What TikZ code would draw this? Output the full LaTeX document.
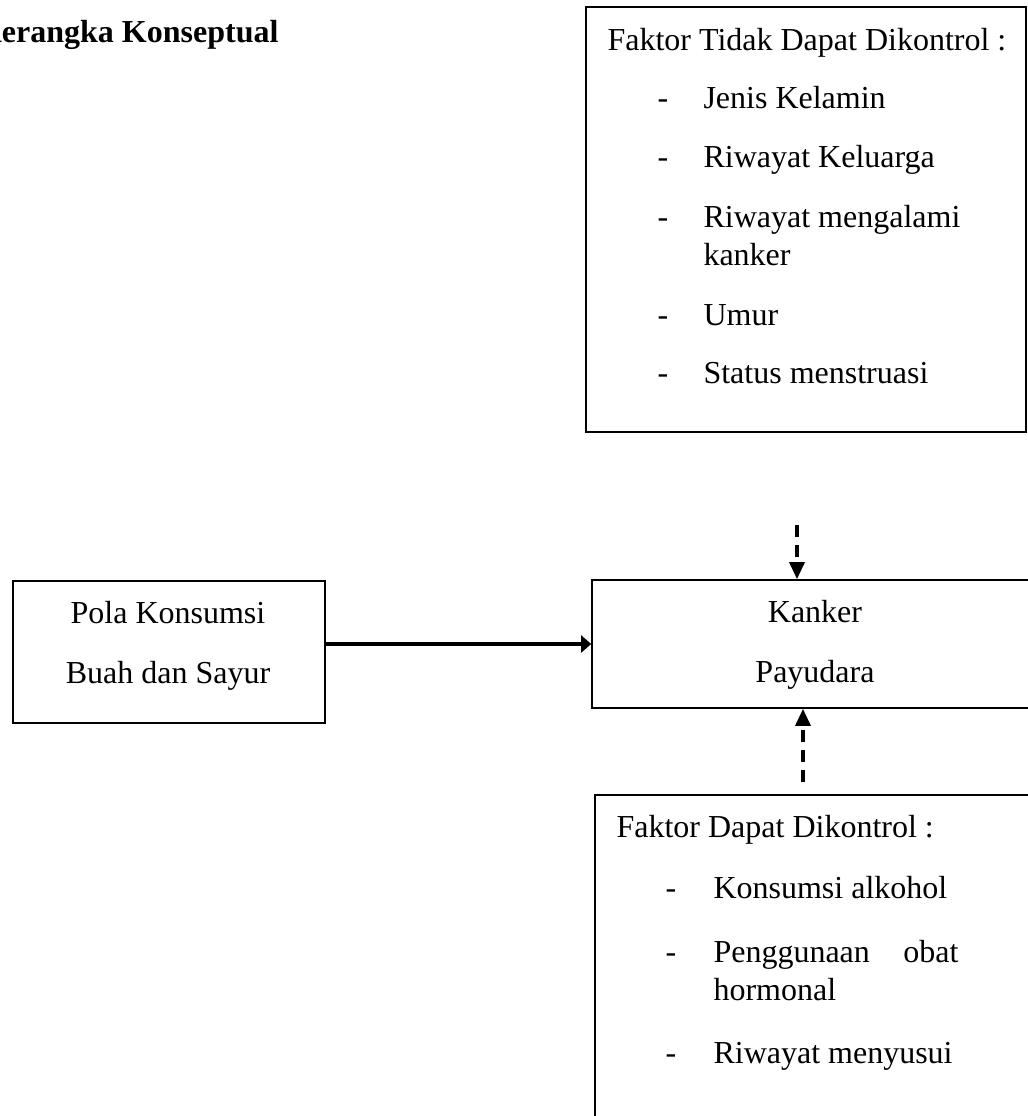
\documentclass[tikz,border=0pt]{standalone}
\usepackage{fontspec}
\setmainfont{Liberation Serif}
\usetikzlibrary{arrows.meta,positioning}
\newcommand{\pxScale}{0.375pt}
\newcommand{\boxLine}{0.6pt}

\begin{document}
\begin{tikzpicture}[x=\pxScale, y=-\pxScale, font=\fontsize{12}{14}\selectfont,
    box/.style={draw, line width=\boxLine, inner sep=0pt},
    txt/.style={inner sep=0pt, anchor=base west},
    ctxt/.style={inner sep=0pt, anchor=base},
    dasharrow/.style={-{Triangle[width=5.6pt,length=6.4pt]}, line width=1.35pt, dash pattern=on 4.5pt off 3pt},
    mainarrow/.style={-{Triangle[width=6.4pt,length=3.8pt]}, line width=1.3pt}]
\useasboundingbox (0,0) rectangle (1028,1116);
\clip (0,0) rectangle (1028,1116);

% title
\node[txt, anchor=base east, font=\fontsize{12}{14}\selectfont\bfseries] (title) at (279,42) {Kerangka Konseptual};

% boxes
\node[box, minimum width=440*\pxScale, minimum height=425*\pxScale] (tidak) at (806,219.5) {};
\node[box, minimum width=448*\pxScale, minimum height=128*\pxScale] (kanker) at (816,644) {};
\node[box, minimum width=312*\pxScale, minimum height=142*\pxScale] (pola) at (169,652) {};
\node[box, minimum width=450*\pxScale, minimum height=355*\pxScale] (dapat) at (820,972.5) {};

% uncontrollable factors
\node[txt] (tidakHead) at (607,50) {Faktor Tidak Dapat Dikontrol :};
\foreach \y [count=\i] in {108,167,227,325,383}
  \node[txt] (tidakDash\i) at (657,\y) {-};
\node[txt] (tidakItem1) at (703,108) {Jenis Kelamin};
\node[txt] (tidakItem2) at (703,167) {Riwayat Keluarga};
\node[txt] (tidakItem3) at (703,227) {Riwayat mengalami};
\node[txt] (tidakItem3b) at (703,265) {kanker};
\node[txt] (tidakItem4) at (703,325) {Umur};
\node[txt] (tidakItem5) at (703,383) {Status menstruasi};

% outcome and exposure
\node[ctxt] (kankerA) at (815,622) {Kanker};
\node[ctxt] (kankerB) at (815,682) {Payudara};
\node[ctxt] (polaA) at (168,623) {Pola Konsumsi};
\node[ctxt] (polaB) at (168,683) {Buah dan Sayur};

% controllable factors
\node[txt] (dapatHead) at (616,837) {Faktor Dapat Dikontrol :};
\foreach \y [count=\i] in {898,962,1063}
  \node[txt] (dapatDash\i) at (665,\y) {-};
\node[txt] (dapatItem1) at (713,898) {Konsumsi alkohol};
\node[txt] (dapatItem2) at (713,962) {\makebox[91.9pt][s]{Penggunaan obat}};
\node[txt] (dapatItem2b) at (713,1000) {hormonal};
\node[txt] (dapatItem3) at (713,1063) {Riwayat menyusui};

% connectors
\coordinate (topStart) at (797,525);
\coordinate (botStart) at (803,782);
\draw[dasharrow] (topStart) -- (topStart |- kanker.north);
\draw[dasharrow] (botStart) -- (botStart |- kanker.south);
\draw[mainarrow] (pola.east |- kanker.west) -- (kanker.west);
\end{tikzpicture}
\end{document}
